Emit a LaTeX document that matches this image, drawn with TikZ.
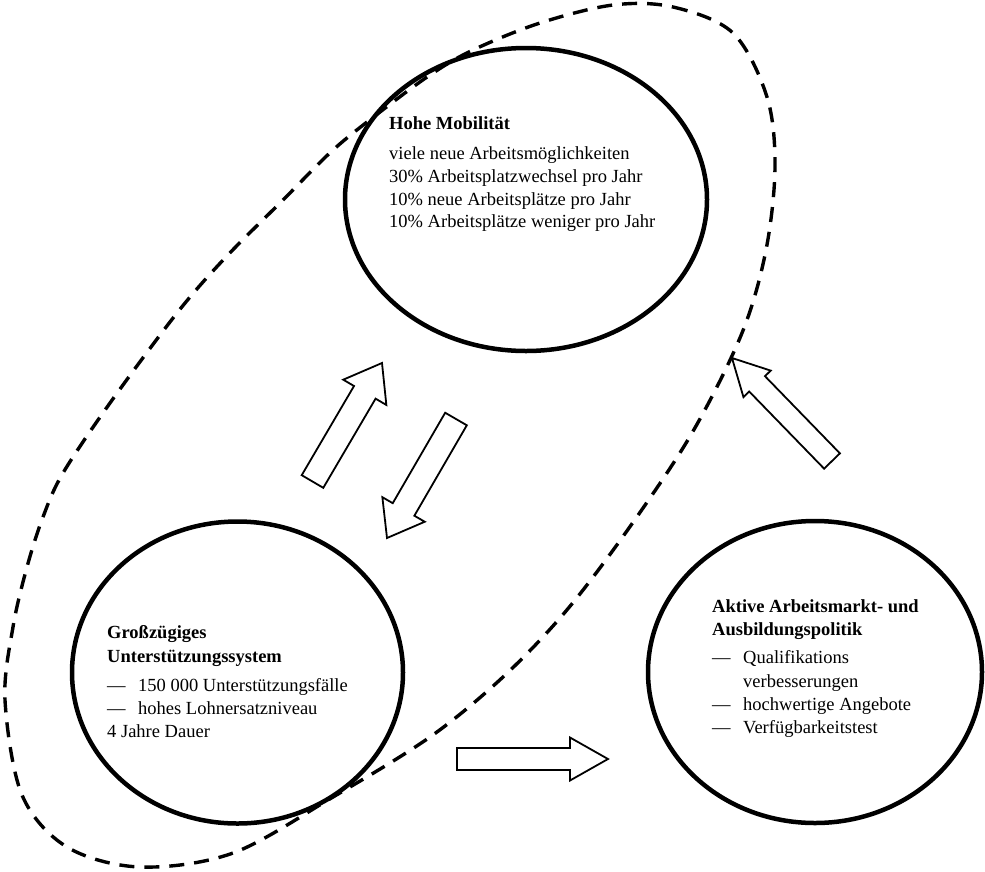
\documentclass[tikz,border=0pt]{standalone}
\usepackage{fontspec}
\setmainfont{Liberation Serif}
\usetikzlibrary{calc,shapes.geometric}
\newcommand\blockarr[5]{%
  \coordinate (ban) at ($(#2)!#5!(#1)$);
  \draw[arr] ($(#1)!#3!90:(#2)$) -- ($(ban)!#3!90:(#2)$) -- ($(ban)!#4!90:(#2)$) -- (#2)
    -- ($(ban)!#4!-90:(#2)$) -- ($(ban)!#3!-90:(#2)$) -- ($(#1)!#3!-90:(#2)$) -- cycle;}
\begin{document}
\begin{tikzpicture}[x=1pt,y=-1pt,
  ell/.style={draw, ellipse, line width=4.5pt, inner sep=0pt},
  txt/.style={anchor=base west, inner sep=0pt, font=\fontsize{18.5}{22.5}\selectfont},
  hdr/.style={anchor=base west, inner sep=0pt, font=\fontsize{18.5}{22.5}\selectfont\bfseries},
  arr/.style={draw, line width=1.8pt, fill=white, line join=miter},
  grp/.style={draw, line width=3.4pt, dash pattern=on 15pt off 10pt}]
\useasboundingbox (0,0) rectangle (985,871);
% dashed grouping outline
\draw[grp] plot[smooth cycle, tension=0.55] coordinates {
 (613,5) (673,7) (733,33) (767,97) (775,167) (766,250) (742,333) (692,433)
 (629,528) (566,611) (503,677) (430,737) (333,797) (233,853) (140,867) (67,847)
 (22,795) (5,700) (13,627) (27,567) (43,517) (63,473) (110,403) (177,313) (225,258)
 (283,200) (333,150) (380,112) (430,75) (473,50) (540,23)};
% ellipses
\node[ell, minimum width=362pt, minimum height=303pt] (mob) at (526,199.5) {};
\node[ell, minimum width=331pt, minimum height=302pt] (unt) at (237.5,672.5) {};
\node[ell, minimum width=334pt, minimum height=302pt] (akt) at (815,672) {};
% texts top
\node[hdr] (m0) at (389,129) {Hohe Mobilität};
\node[txt] (m1) at (389,159) {viele neue Arbeitsmöglichkeiten};
\node[txt] (m2) at (389,182) {30\% Arbeitsplatzwechsel pro Jahr};
\node[txt] (m3) at (389,205) {10\% neue Arbeitsplätze pro Jahr};
\node[txt] (m4) at (389,227) {10\% Arbeitsplätze weniger pro Jahr};
% texts bottom left
\node[hdr] (u0) at (107,638) {Großzügiges};
\node[hdr] (u1) at (107,662) {Unterstützungssystem};
\node[txt] (u2) at (107,691) {\makebox[31pt][l]{—}150 000 Unterstützungsfälle};
\node[txt] (u3) at (107,714) {\makebox[31pt][l]{—}hohes Lohnersatzniveau};
\node[txt] (u4) at (107,737) {4 Jahre Dauer};
% texts bottom right
\node[hdr] (a0) at (712,612) {Aktive Arbeitsmarkt- und};
\node[hdr] (a1) at (712,635) {Ausbildungspolitik};
\node[txt] (a2) at (712,663) {\makebox[31pt][l]{—}Qualifikations};
\node[txt] (a3) at (743,687) {verbesserungen};
\node[txt] (a4) at (712,710) {\makebox[31pt][l]{—}hochwertige Angebote};
\node[txt] (a5) at (712,733) {\makebox[31pt][l]{—}Verfügbarkeitstest};
% block arrows
\coordinate (a1t) at (312.5,481.5); \coordinate (a1h) at (382,363);
\coordinate (a2t) at (456,419);     \coordinate (a2h) at (387,538);
\coordinate (a3t) at (832,461);     \coordinate (a3h) at (732,358);
\coordinate (a4t) at (457,759);     \coordinate (a4h) at (608,759);
\blockarr{a1t}{a1h}{12.5pt}{25pt}{34pt}
\blockarr{a2t}{a2h}{12.5pt}{24.5pt}{33pt}
\blockarr{a3t}{a3h}{11pt}{19pt}{36pt}
\blockarr{a4t}{a4h}{11pt}{21.5pt}{38pt}
\end{tikzpicture}
\end{document}
